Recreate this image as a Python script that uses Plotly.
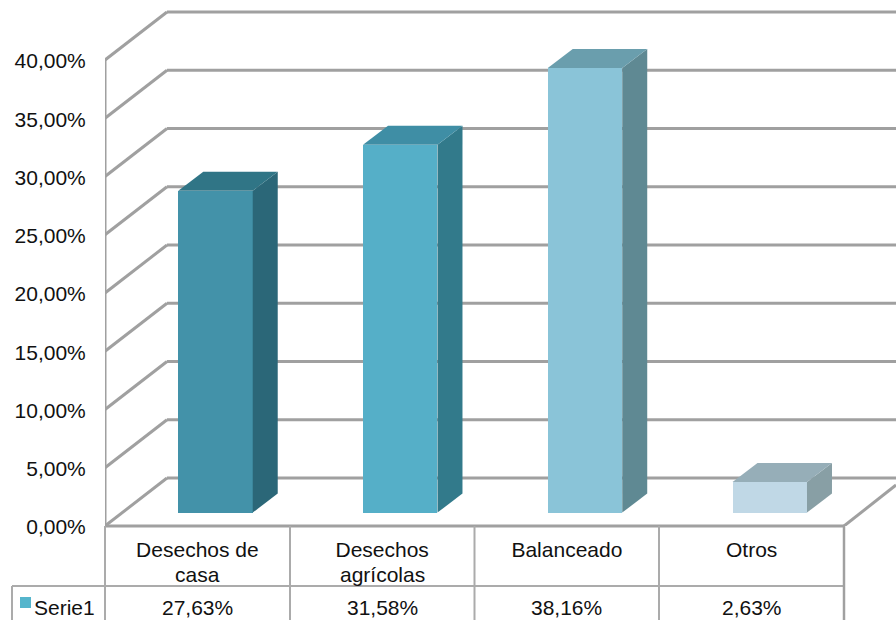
import plotly.graph_objects as go

categories = ["Desechos de<br>casa", "Desechos<br>agrícolas", "Balanceado", "Otros"]
values = [27.63, 31.58, 38.16, 2.63]
series_name = "Serie1"
y_ticks = [0, 5, 10, 15, 20, 25, 30, 35, 40]
front_colors = ["#4392A9", "#55AFC8", "#8AC4D8", "#C0D8E6"]
side_colors = ["#2B6778", "#327A8B", "#5F8993", "#889FA5"]
top_colors = ["#307586", "#3F8EA5", "#6A9EAD", "#96AEB8"]
GRID = "#A0A0A0"
FONT = "Liberation Sans, Arial, sans-serif"
FS = 21

W, H = 896, 620
L, AX_Y = 105, 526
PX_CAT, PX_VAL = 184.75, 11.65
X0 = (L - 197.4) / PX_CAT
X1 = (W - 197.4) / PX_CAT
Y1 = AX_Y / PX_VAL
WALL_DX, WALL_DY = 62 / PX_CAT, 48 / PX_VAL
BAR_DX, BAR_DY = 25 / PX_CAT, 19 / PX_VAL
BAR_W, BAR_SHIFT, BAR_BASE = 0.403, 0.098, 1.15

fig = go.Figure()


def poly(xs, ys, color):
    fig.add_trace(go.Scatter(
        x=xs, y=ys, mode="lines", fill="toself", fillcolor=color,
        line=dict(color=color, width=0), hoverinfo="skip", showlegend=False))


def seg(x0, y0, x1, y1):
    return dict(type="line", xref="x", yref="y", x0=x0, y0=y0, x1=x1, y1=y1, layer="below",
                line=dict(color=GRID, width=3))


# walls and floor, below every trace
shapes = []
for v in y_ticks:
    shapes.append(seg(X0, v, X0 + WALL_DX, v + WALL_DY))
    shapes.append(seg(X0 + WALL_DX, v + WALL_DY, X1, v + WALL_DY))
shapes.append(seg(X0, 0, X0, y_ticks[-1]))
shapes.append(seg(3.5, 0, 3.5 + 52 / PX_CAT, 41 / PX_VAL))

# 3D faces of the columns
for i, v in enumerate(values):
    xl = i + BAR_SHIFT - BAR_W / 2
    xr = i + BAR_SHIFT + BAR_W / 2
    yb = BAR_BASE
    yt = BAR_BASE + v
    poly([xr, xr + BAR_DX, xr + BAR_DX, xr, xr], [yb, yb + BAR_DY, yt + BAR_DY, yt, yb], side_colors[i])
    poly([xl, xr, xr + BAR_DX, xl + BAR_DX, xl], [yt, yt, yt + BAR_DY, yt + BAR_DY, yt], top_colors[i])

fig.add_trace(go.Bar(
    x=list(range(len(values))), y=values, base=BAR_BASE, name=series_name,
    width=BAR_W, offset=BAR_SHIFT - BAR_W / 2,
    marker=dict(color=front_colors, line=dict(width=0)), showlegend=False))


def px(p):
    return (p - L) / (W - L)


def py(p):
    return (AX_Y - p) / AX_Y


def hline(x0, x1, y, w=2.5, c=GRID):
    return dict(type="line", xref="paper", yref="paper", x0=px(x0), x1=px(x1), y0=py(y), y1=py(y),
                line=dict(color=c, width=w))


def vline(x, y0, y1, w=2.5, c=GRID):
    return dict(type="line", xref="paper", yref="paper", x0=px(x), x1=px(x), y0=py(y0), y1=py(y1),
                line=dict(color=c, width=w))


shapes += [hline(L, 844, AX_Y, 3), hline(12, 844, 586, 2, "#ABABAB"), vline(12, 586, 620, 2, "#ABABAB")]
shapes += [vline(x, AX_Y, 620, 2, "#ABABAB") for x in (L, 290, 474.5, 659)]
shapes.append(vline(844, AX_Y, 620, 2.5, "#A0A0A0"))
shapes.append(dict(type="rect", xref="paper", yref="paper", x0=px(20), x1=px(31), y0=py(608), y1=py(597),
                   fillcolor="#55B5CC", line=dict(width=0)))

text_font = dict(family=FONT, size=FS, color="#111111")
annotations = [dict(x=i, y=py(607), xref="x", yref="paper", text=f"{v:.2f}%".replace(".", ","),
                    showarrow=False, xanchor="center", yanchor="middle", font=text_font)
               for i, v in enumerate(values)]
annotations.append(dict(x=px(32), y=py(607), xref="paper", yref="paper", text=series_name, showarrow=False,
                        xanchor="left", yanchor="middle", font=text_font))
# second lines of the category labels: the reference's line spacing is tighter than the axis labels allow
for i, c in enumerate(categories):
    parts = c.split("<br>")
    if len(parts) > 1:
        annotations.append(dict(x=i, y=py(574), xref="x", yref="paper", text=parts[1], showarrow=False,
                                xanchor="center", yanchor="middle", font=text_font))

fig.update_layout(
    width=W, height=H, margin=dict(l=L, r=0, t=0, b=H - AX_Y, autoexpand=False),
    paper_bgcolor="white", plot_bgcolor="white", showlegend=False, bargap=0,
    font=text_font, shapes=shapes, annotations=annotations,
    xaxis=dict(range=[X0, X1], tickvals=list(range(len(categories))),
               ticktext=[c.split("<br>")[0] for c in categories],
               showgrid=False, zeroline=False, showline=False, ticks="outside", ticklen=5,
               tickcolor="rgba(0,0,0,0)", tickfont=text_font),
    yaxis=dict(range=[0, Y1], tickvals=y_ticks,
               ticktext=[f"{t:.2f}%".replace(".", ",") for t in y_ticks],
               showgrid=False, zeroline=False, showline=False, ticks="outside", ticklen=14,
               ticklabelshift=1,
               tickcolor="rgba(0,0,0,0)", tickfont=text_font),
)
fig.write_html("out.html", config=dict(displayModeBar=False),
               post_script="document.body.style.margin='0';document.documentElement.style.overflow='hidden';")
